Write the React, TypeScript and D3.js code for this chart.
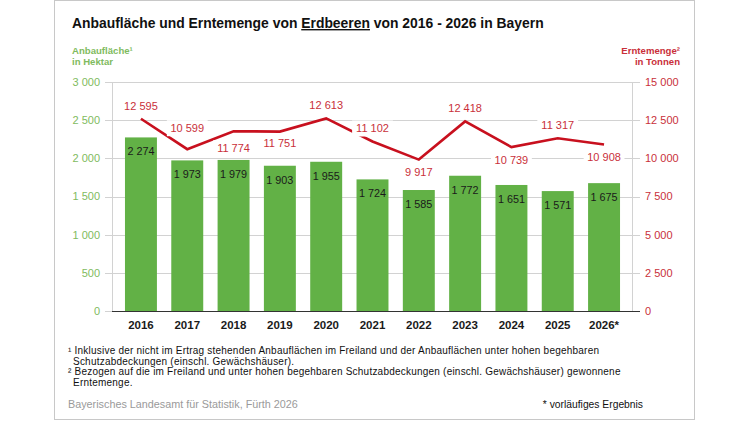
import * as React from "react";
import * as d3 from "d3";

const years = ["2016", "2017", "2018", "2019", "2020", "2021", "2022", "2023", "2024", "2025", "2026*"];
const area = [2274, 1973, 1979, 1903, 1955, 1724, 1585, 1772, 1651, 1571, 1675];
const harvest = [12595, 10599, 11774, 11751, 12613, 11102, 9917, 12418, 10739, 11317, 10908];
const areaTicks = [0, 500, 1000, 1500, 2000, 2500, 3000];
const harvestTicks = [0, 2500, 5000, 7500, 10000, 12500, 15000];

// vertical offset of each harvest label from its point (above < 0 < below)
const labelDy = [-13, -21, 17, 12, -13, -13, 13, -13, 13, -13, 13];

const footnotes = [
  { x: 68, text: "¹ Inklusive der nicht im Ertrag stehenden Anbauflächen im Freiland und der Anbauflächen unter hohen begehbaren" },
  { x: 73, text: "Schutzabdeckungen (einschl. Gewächshäuser)." },
  { x: 68, text: "² Bezogen auf die im Freiland und unter hohen begehbaren Schutzabdeckungen (einschl. Gewächshäuser) gewonnene" },
  { x: 73, text: "Erntemenge." },
];

const GREEN = "#62b146";
const GREEN_TEXT = "#7fbb60";
const RED = "#c8101e";
const RED_TEXT = "#c9303a";
const GRID = "#d2d2d2";
const FONT = "'Liberation Sans', Arial, Helvetica, sans-serif";

const fmt = (v: number) => d3.format(",")(v).replace(/,/g, " ");

export default function App() {
  const W = 750;
  const H = 422;
  const left = 112;
  const right = 633;
  const top = 82;
  const bottom = 311;

  const x = d3.scaleBand<string>().domain(years).range([left, right]).paddingInner(0.31).paddingOuter(0.28);
  const yL = d3.scaleLinear().domain([0, 3000]).range([bottom, top]);
  const yR = d3.scaleLinear().domain([0, 15000]).range([bottom, top]);
  const cx = (i: number) => (x(years[i]) ?? 0) + x.bandwidth() / 2;

  const line = d3
    .line<number>()
    .x((_, i) => cx(i))
    .y((d) => yR(d));

  return (
    <div style={{ position: "absolute", left: 0, top: 0 }}>
      <svg width={W} height={H} style={{ display: "block", fontFamily: FONT }}>
        <rect x={0} y={0} width={W} height={H} fill="#fff" />
        <rect x={54.5} y={0.5} width={640} height={419} fill="none" stroke="#c8c8c8" />

        <text x={72} y={28} fontSize={13.9} fontWeight="bold" fill="#111">
          Anbaufläche und Erntemenge von <tspan textDecoration="underline">Erdbeeren</tspan> von 2016 - 2026 in Bayern
        </text>

        <text x={72} y={54} fontSize={9.6} fontWeight="bold" fill={GREEN_TEXT}>Anbaufläche¹</text>
        <text x={72} y={65} fontSize={9.6} fontWeight="bold" fill={GREEN_TEXT}>in Hektar</text>
        <text x={680} y={54} fontSize={9.6} fontWeight="bold" fill={RED_TEXT} textAnchor="end">Erntemenge²</text>
        <text x={680} y={65} fontSize={9.6} fontWeight="bold" fill={RED_TEXT} textAnchor="end">in Tonnen</text>

        {/* gridlines */}
        {areaTicks.map((t) => (
          <line key={"g" + t} x1={105} x2={640} y1={Math.round(yL(t)) + 0.5} y2={Math.round(yL(t)) + 0.5} stroke={GRID} />
        ))}
        <line x1={left + 0.5} x2={left + 0.5} y1={top} y2={bottom} stroke={GRID} />
        <line x1={right - 0.5} x2={right - 0.5} y1={top} y2={bottom} stroke={GRID} />

        {areaTicks.map((t) => (
          <text key={"l" + t} x={100} y={yL(t)} dy="0.35em" fontSize={11} fill={GREEN_TEXT} textAnchor="end">
            {fmt(t)}
          </text>
        ))}
        {harvestTicks.map((t) => (
          <text key={"r" + t} x={645} y={yR(t)} dy="0.35em" fontSize={11} fill={RED_TEXT}>
            {fmt(t)}
          </text>
        ))}

        {/* bars */}
        {area.map((v, i) => (
          <rect key={"b" + i} x={x(years[i])} y={yL(v)} width={x.bandwidth()} height={bottom - yL(v)} fill={GREEN} />
        ))}
        {area.map((v, i) => (
          <text key={"bl" + i} x={cx(i)} y={yL(v) + 14} dy="0.35em" fontSize={10.8} fill="#1a1a1a" textAnchor="middle">
            {fmt(v)}
          </text>
        ))}

        <line x1={left} x2={640} y1={Math.round(bottom) + 0.5} y2={Math.round(bottom) + 0.5} stroke="#333" />

        {years.map((yr, i) => (
          <text key={"x" + i} x={cx(i)} y={325} dy="0.35em" fontSize={11.5} fontWeight="bold" fill="#1a1a1a" textAnchor="middle">
            {yr}
          </text>
        ))}

        {/* harvest line */}
        <path d={line(harvest) ?? ""} fill="none" stroke={RED} strokeWidth={2.6} strokeLinejoin="miter" />
        {harvest.map((v, i) => {
          const ly = yR(v) + labelDy[i];
          const s = fmt(v);
          const w = s.length * 5.8 + 6;
          return (
            <g key={"hl" + i}>
              <rect x={cx(i) - w / 2} y={ly - 8} width={w} height={16} fill="#fff" />
              <text x={cx(i)} y={ly} dy="0.35em" fontSize={11} fill={RED_TEXT} textAnchor="middle">
                {s}
              </text>
            </g>
          );
        })}

        {footnotes.map((f, i) => (
          <text key={"f" + i} x={f.x} y={[350.5, 361, 371.5, 382][i]} dy="0.35em" fontSize={10} letterSpacing={0.22} fill="#111">
            {f.text}
          </text>
        ))}
        <text x={68} y={404} dy="0.35em" fontSize={10.8} fill="#9a9a9a">Bayerisches Landesamt für Statistik, Fürth 2026</text>
        <text x={643} y={404} dy="0.35em" fontSize={10.3} fill="#111" textAnchor="end">* vorläufiges Ergebnis</text>
      </svg>
    </div>
  );
}
